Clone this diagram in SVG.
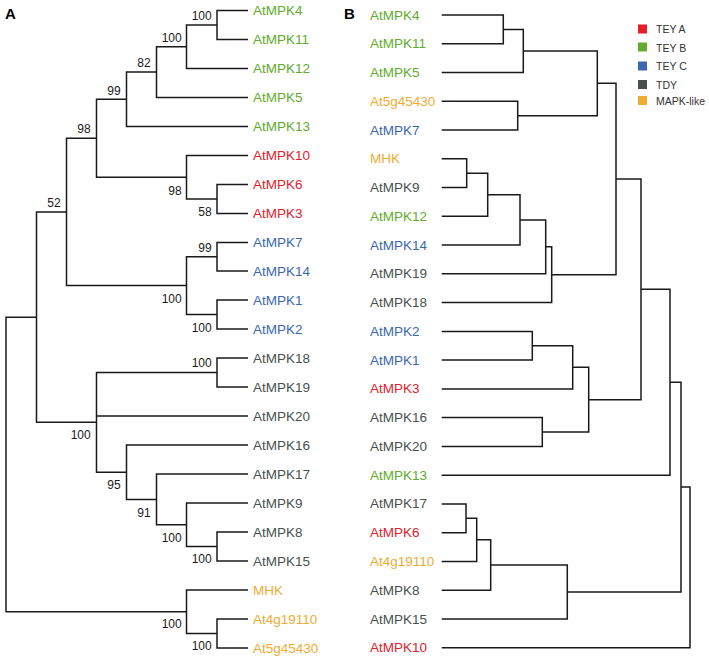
<svg xmlns="http://www.w3.org/2000/svg" width="709" height="661" viewBox="0 0 709 661">
<style>
text{font-family:"Liberation Sans",Arial,Helvetica,sans-serif}
.lab{font-size:13.5px}
.bs{font-size:12px;fill:#1a1a1a;text-anchor:end}
.pl{font-size:15px;font-weight:bold;fill:#000}
.lg{font-size:10.5px;fill:#333}
.ga{fill:#e4202b}.gb{fill:#62ab2e}.gc{fill:#3b68b0}.gd{fill:#475150}.ge{fill:#f0ac32}
.br path{fill:none;stroke:#1a1a1a;stroke-width:1.5}
</style>
<rect width="709" height="661" fill="#fff"/>
<text class="pl" x="5" y="18.5">A</text>
<text class="pl" x="344" y="18.5">B</text>

<g id="connectorsA" class="br">
<path d="M248 10.5H217V39.5H248"/>
<path d="M217 25H186.5V68.5H248"/>
<path d="M186.5 46.75H156.5V97.5H248"/>
<path d="M156.5 72.1H126.5V126.5H248"/>
<path d="M248 184.5H217V213.5H248"/>
<path d="M248 155.5H186.5V199H217"/>
<path d="M126.5 99.3H96.5V177.25H186.5"/>
<path d="M248 242.5H217V271H248"/>
<path d="M248 300H217V329H248"/>
<path d="M217 256.75H186.5V314.5H217"/>
<path d="M96.5 138.3H66.5V285.6H186.5"/>
<path d="M248 358H217V387H248"/>
<path d="M248 532H217V561H248"/>
<path d="M248 503H186.5V546.5H217"/>
<path d="M248 474H156.5V524.75H186.5"/>
<path d="M248 445H126.5V499.4H156.5"/>
<path d="M217 372.5H96.5V472.2H126.5M96.5 416H248"/>
<path d="M66.5 211.95H36.5V422.35H96.5"/>
<path d="M248 619H217V648H248"/>
<path d="M248 590H186.5V633.5H217"/>
<path d="M36.5 317.15H6V611.75H186.5"/>
</g>

<g id="bootstrapA">
<text class="bs" x="211.7" y="19.5">100</text>
<text class="bs" x="181.7" y="41.7">100</text>
<text class="bs" x="150.7" y="66.7">82</text>
<text class="bs" x="120.7" y="95">99</text>
<text class="bs" x="90.7" y="132.7">98</text>
<text class="bs" x="60.7" y="206.7">52</text>
<text class="bs" x="181.7" y="195">98</text>
<text class="bs" x="211.7" y="216">58</text>
<text class="bs" x="211.7" y="251.7">99</text>
<text class="bs" x="181.7" y="303.3">100</text>
<text class="bs" x="211.7" y="331.7">100</text>
<text class="bs" x="211.7" y="367.3">100</text>
<text class="bs" x="90.7" y="439.3">100</text>
<text class="bs" x="120.7" y="489.3">95</text>
<text class="bs" x="150.7" y="516.7">91</text>
<text class="bs" x="181.7" y="541.7">100</text>
<text class="bs" x="211.7" y="563.3">100</text>
<text class="bs" x="181.7" y="628.3">100</text>
<text class="bs" x="211.7" y="650">100</text>
</g>

<g id="leavesA" class="lab">
<g id="a-AtMPK4"><text class="gb" x="253" y="15">AtMPK4</text></g>
<g id="a-AtMPK11"><text class="gb" x="253" y="44">AtMPK11</text></g>
<g id="a-AtMPK12"><text class="gb" x="253" y="73">AtMPK12</text></g>
<g id="a-AtMPK5"><text class="gb" x="253" y="102">AtMPK5</text></g>
<g id="a-AtMPK13"><text class="gb" x="253" y="131">AtMPK13</text></g>
<g id="a-AtMPK10"><text class="ga" x="253" y="160">AtMPK10</text></g>
<g id="a-AtMPK6"><text class="ga" x="253" y="189">AtMPK6</text></g>
<g id="a-AtMPK3"><text class="ga" x="253" y="218">AtMPK3</text></g>
<g id="a-AtMPK7"><text class="gc" x="253" y="247">AtMPK7</text></g>
<g id="a-AtMPK14"><text class="gc" x="253" y="275.5">AtMPK14</text></g>
<g id="a-AtMPK1"><text class="gc" x="253" y="304.5">AtMPK1</text></g>
<g id="a-AtMPK2"><text class="gc" x="253" y="333.5">AtMPK2</text></g>
<g id="a-AtMPK18"><text class="gd" x="253" y="362.5">AtMPK18</text></g>
<g id="a-AtMPK19"><text class="gd" x="253" y="391.5">AtMPK19</text></g>
<g id="a-AtMPK20"><text class="gd" x="253" y="420.5">AtMPK20</text></g>
<g id="a-AtMPK16"><text class="gd" x="253" y="449.5">AtMPK16</text></g>
<g id="a-AtMPK17"><text class="gd" x="253" y="478.5">AtMPK17</text></g>
<g id="a-AtMPK9"><text class="gd" x="253" y="507.5">AtMPK9</text></g>
<g id="a-AtMPK8"><text class="gd" x="253" y="536.5">AtMPK8</text></g>
<g id="a-AtMPK15"><text class="gd" x="253" y="565.5">AtMPK15</text></g>
<g id="a-MHK"><text class="ge" x="253" y="594.5">MHK</text></g>
<g id="a-At4g19110"><text class="ge" x="253" y="623.5">At4g19110</text></g>
<g id="a-At5g45430"><text class="ge" x="253" y="652.5">At5g45430</text></g>
</g>

<g id="connectorsB" class="br">
<path d="M441.7 15H503.3V43.76H441.7"/>
<path d="M503.3 29.4H523.3V72.5H441.7"/>
<path d="M441.7 101.3H517.7V130H441.7"/>
<path d="M523.3 51H597.3V115.7H517.7"/>
<path d="M441.7 158.8H466.7V187.6H441.7"/>
<path d="M466.7 173.2H487.7V216.3H441.7"/>
<path d="M487.7 194.75H520V245.1H441.7"/>
<path d="M520 219.9H545.7V273.8H441.7"/>
<path d="M545.7 246.85H551.7V302.6H441.7"/>
<path d="M597.3 83.3H616V274.7H551.7"/>
<path d="M441.7 331.4H532.3V360.1H441.7"/>
<path d="M532.3 345.75H572.7V388.9H441.7"/>
<path d="M441.7 417.6H542.3V446.4H441.7"/>
<path d="M572.7 367.3H588.7V432H542.3"/>
<path d="M616 179H641V399.65H588.7"/>
<path d="M641 289.3H670V475.2H441.7"/>
<path d="M441.7 503.9H466V532.7H441.7"/>
<path d="M466 518.3H476.7V561.4H441.7"/>
<path d="M476.7 539.85H490.7V590.2H441.7"/>
<path d="M490.7 565H567.3V619H441.7"/>
<path d="M670 382.25H681V592H567.3"/>
<path d="M681 487.1H690V647.7H441.7"/>
</g>

<g id="leavesB" class="lab">
<g id="b-AtMPK4"><text class="gb" x="370" y="19.5">AtMPK4</text></g>
<g id="b-AtMPK11"><text class="gb" x="370" y="48.3">AtMPK11</text></g>
<g id="b-AtMPK5"><text class="gb" x="370" y="77">AtMPK5</text></g>
<g id="b-At5g45430"><text class="ge" x="370" y="105.8">At5g45430</text></g>
<g id="b-AtMPK7"><text class="gc" x="370" y="134.5">AtMPK7</text></g>
<g id="b-MHK"><text class="ge" x="370" y="163.3">MHK</text></g>
<g id="b-AtMPK9"><text class="gd" x="370" y="192.1">AtMPK9</text></g>
<g id="b-AtMPK12"><text class="gb" x="370" y="220.8">AtMPK12</text></g>
<g id="b-AtMPK14"><text class="gc" x="370" y="249.6">AtMPK14</text></g>
<g id="b-AtMPK19"><text class="gd" x="370" y="278.3">AtMPK19</text></g>
<g id="b-AtMPK18"><text class="gd" x="370" y="307.1">AtMPK18</text></g>
<g id="b-AtMPK2"><text class="gc" x="370" y="335.9">AtMPK2</text></g>
<g id="b-AtMPK1"><text class="gc" x="370" y="364.6">AtMPK1</text></g>
<g id="b-AtMPK3"><text class="ga" x="370" y="393.4">AtMPK3</text></g>
<g id="b-AtMPK16"><text class="gd" x="370" y="422.1">AtMPK16</text></g>
<g id="b-AtMPK20"><text class="gd" x="370" y="450.9">AtMPK20</text></g>
<g id="b-AtMPK13"><text class="gb" x="370" y="479.7">AtMPK13</text></g>
<g id="b-AtMPK17"><text class="gd" x="370" y="508.4">AtMPK17</text></g>
<g id="b-AtMPK6"><text class="ga" x="370" y="537.2">AtMPK6</text></g>
<g id="b-At4g19110"><text class="ge" x="370" y="565.9">At4g19110</text></g>
<g id="b-AtMPK8"><text class="gd" x="370" y="594.7">AtMPK8</text></g>
<g id="b-AtMPK15"><text class="gd" x="370" y="623.5">AtMPK15</text></g>
<g id="b-AtMPK10"><text class="ga" x="370" y="652.2">AtMPK10</text></g>
</g>

<g id="legend">
<rect class="ga" x="638" y="24.5" width="9" height="9"/>
<text class="lg" x="656" y="33">TEY A</text>
<rect class="gb" x="638" y="42.5" width="9" height="9"/>
<text class="lg" x="656" y="51.5">TEY B</text>
<rect class="gc" x="638" y="61.5" width="9" height="9"/>
<text class="lg" x="656" y="70">TEY C</text>
<rect class="gd" x="638" y="80" width="9" height="9"/>
<text class="lg" x="656" y="88.5">TDY</text>
<rect class="ge" x="638" y="96" width="9" height="9"/>
<text class="lg" x="656" y="104.5">MAPK-like</text>
</g>
</svg>
